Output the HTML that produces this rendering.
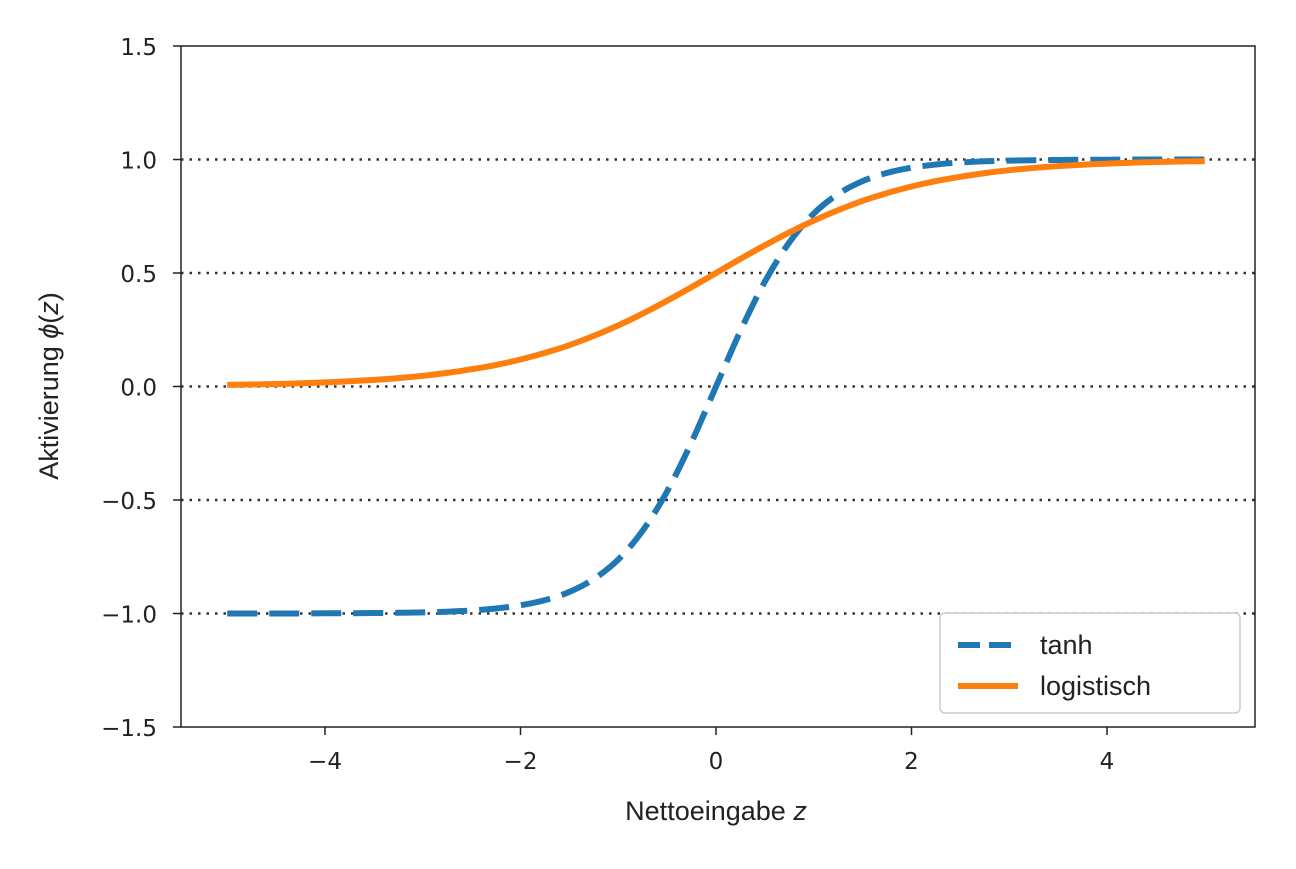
<!DOCTYPE html>
<html><head><meta charset="utf-8"><style>
body{margin:0;background:#fff}
svg text{font-family:"Liberation Sans",sans-serif;fill:#222}
svg text.tick{font-family:"DejaVu Sans",sans-serif}
</style></head><body>
<svg id="chart" width="1296" height="864" xmlns="http://www.w3.org/2000/svg">
<g id="grid"></g><g id="series"></g><g id="axes"></g>
<g>
<rect x="940" y="613" width="300" height="100" rx="5" fill="#fff" stroke="#ccc" stroke-width="1.5"/>
<line x1="958" y1="645" x2="1018" y2="645" stroke="#1f77b4" stroke-width="6" stroke-dasharray="22,9"/>
<text x="1040" y="654" font-size="27">tanh</text>
<line x1="958" y1="686" x2="1018" y2="686" stroke="#ff7f0e" stroke-width="6"/>
<text x="1040" y="695" font-size="27">logistisch</text>
</g>
<text x="716" y="820" font-size="27" text-anchor="middle">Nettoeingabe <tspan font-style="italic">z</tspan></text>
<text transform="translate(58,386) rotate(-90)" font-size="27" text-anchor="middle">Aktivierung <tspan font-style="italic">ϕ</tspan>(<tspan font-style="italic">z</tspan>)</text>
</svg>
<script>
const xs=[-5,-4.75,-4.5,-4.25,-4,-3.75,-3.5,-3.25,-3,-2.75,-2.5,-2.25,-2,-1.75,-1.5,-1.25,-1,-0.75,-0.5,-0.25,0,0.25,0.5,0.75,1,1.25,1.5,1.75,2,2.25,2.5,2.75,3,3.25,3.5,3.75,4,4.25,4.5,4.75,5];
const tanhVals=[-1,-1,-1,-1,-0.999,-0.999,-0.998,-0.997,-0.995,-0.992,-0.987,-0.978,-0.964,-0.941,-0.905,-0.848,-0.762,-0.635,-0.462,-0.245,0,0.245,0.462,0.635,0.762,0.848,0.905,0.941,0.964,0.978,0.987,0.992,0.995,0.997,0.998,0.999,0.999,1,1,1,1];
const logVals=[0.007,0.009,0.011,0.014,0.018,0.023,0.029,0.037,0.047,0.060,0.076,0.095,0.119,0.148,0.182,0.223,0.269,0.321,0.378,0.438,0.5,0.562,0.622,0.679,0.731,0.777,0.818,0.852,0.881,0.905,0.924,0.940,0.953,0.963,0.971,0.977,0.982,0.986,0.989,0.991,0.993];
const xTicks=[-4,-2,0,2,4];
const yTicks=[-1.5,-1,-0.5,0,0.5,1,1.5];
const gridYs=[-1,-0.5,0,0.5,1];
const L=181,R=1255,T=46,B=727;
const sx=v=>716+v*97.75, sy=v=>386.5-v*227;
const NS="http://www.w3.org/2000/svg";
function mk(t,a,p){const e=document.createElementNS(NS,t);for(const k in a)e.setAttribute(k,a[k]);p.appendChild(e);return e;}
const grid=document.getElementById('grid'),ser=document.getElementById('series'),ax=document.getElementById('axes');
gridYs.forEach(v=>{const l=mk('line',{x1:L,x2:R,y1:sy(v),y2:sy(v),stroke:'#333','stroke-width':2.5,'stroke-dasharray':'2.5,6'},grid);

});
function path(vals,attrs,name){let d='M'+sx(xs[0])+','+sy(vals[0]);
for(let i=1;i<xs.length;i++){const x0=sx(xs[i-1]),y0=sy(vals[i-1]),x1=sx(xs[i]),y1=sy(vals[i]);
const xp=i>1?sx(xs[i-2]):x0,yp=i>1?sy(vals[i-2]):y0,xn=i<xs.length-1?sx(xs[i+1]):x1,yn=i<xs.length-1?sy(vals[i+1]):y1;
d+='C'+(x0+(x1-xp)/6).toFixed(1)+','+(y0+(y1-yp)/6).toFixed(1)+' '+(x1-(xn-x0)/6).toFixed(1)+','+(y1-(yn-y0)/6).toFixed(1)+' '+x1.toFixed(1)+','+y1.toFixed(1);}
const p=mk('path',Object.assign({d:d,fill:'none','stroke-width':6,'stroke-linejoin':'round'},attrs),ser);

}
path(tanhVals,{stroke:'#1f77b4','stroke-dasharray':'30,12'},'tanh-line');
path(logVals,{stroke:'#ff7f0e'},'logistic-line');
const fr=mk('rect',{x:L,y:T,width:R-L,height:B-T,fill:'none',stroke:'#222','stroke-width':1.5},ax);


xTicks.forEach(v=>{mk('line',{x1:sx(v),x2:sx(v),y1:B,y2:B+8,stroke:'#222','stroke-width':1.5},ax);
const t=mk('text',{x:sx(v),y:B+42,'font-size':23,'text-anchor':'middle','class':'tick'},ax);t.textContent=(v<0?'\u2212'+(-v):v);

});
yTicks.forEach(v=>{mk('line',{x1:L-8,x2:L,y1:sy(v),y2:sy(v),stroke:'#222','stroke-width':1.5},ax);
const t=mk('text',{x:L-24,y:sy(v)+9,'font-size':23,'text-anchor':'end','class':'tick'},ax);t.textContent=(v<0?'\u2212':'')+Math.abs(v).toFixed(1);

});
</script>
</body></html>
